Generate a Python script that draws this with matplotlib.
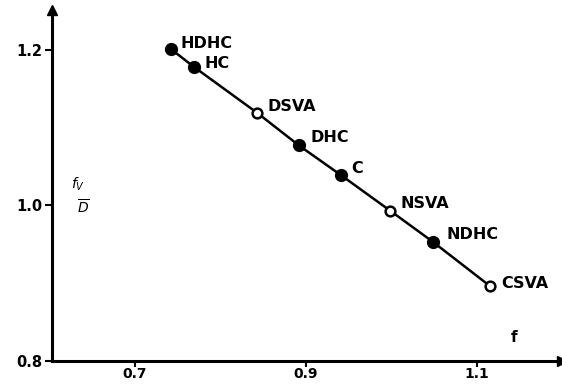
import matplotlib
matplotlib.use("Agg")
import matplotlib.pyplot as plt

names = ["HDHC", "HC", "DSVA", "DHC", "C", "NSVA", "NDHC", "CSVA"]
fx = [0.742, 0.769, 0.843, 0.892, 0.941, 0.999, 1.049, 1.116]
fy = [1.201, 1.178, 1.119, 1.077, 1.039, 0.993, 0.953, 0.896]
filled = [True, True, False, True, True, False, True, False]
xticks = [0.7, 0.9, 1.1]
xticklabels = ["0.7", "0.9", "1.1"]
yticks = [0.8, 1.0, 1.2]
yticklabels = ["0.8", "1.0", "1.2"]

label_off = [(10, 5), (11, 3), (10, 6), (12, 8), (11, 6), (10, 7), (13, 7), (11, 3)]

fig = plt.figure(figsize=(5.62, 3.86), dpi=100)
ax = fig.add_axes([52/562, 25/386, 510/562, 351/386])
ax.set_xlim(0.603, 1.2)
ax.set_ylim(0.8, 1.251)

for s in ["top", "right"]:
    ax.spines[s].set_visible(False)
for s in ["left", "bottom"]:
    ax.spines[s].set_linewidth(2.2)

ax.plot(1, 0, ">k", transform=ax.transAxes, clip_on=False, markersize=7)
ax.plot(0, 1, "^k", transform=ax.transAxes, clip_on=False, markersize=7)

ax.plot(fx, fy, "-", color="black", lw=1.8, zorder=2)
for x, y, f, n, off in zip(fx, fy, filled, names, label_off):
    if f:
        ax.plot(x, y, "o", ms=8.5, mfc="black", mec="black", zorder=3)
    else:
        ax.plot(x, y, "o", ms=7, mfc="white", mec="black", mew=1.8, zorder=3)
    ax.annotate(n, (x, y), xytext=off, textcoords="offset pixels",
                ha="left", va="center", fontsize=11.5, fontweight="bold")

ax.set_xticks(xticks)
ax.set_xticklabels(xticklabels, fontsize=10, fontweight="bold")
ax.set_yticks(yticks)
ax.set_yticklabels(yticklabels, fontsize=10.5, fontweight="bold")
ax.tick_params(axis="both", direction="out", length=5, width=1.5, pad=2)
ax.tick_params(axis="x", pad=0.5, length=4)

ax.text(1.14, 0.825, "f", fontsize=11, fontweight="bold")
ax.text(0.625, 1.022, "$f_V$", fontsize=10, fontweight="bold")
ax.text(0.632, 0.99, "$\\overline{D}$", fontsize=10, fontweight="bold")

fig.savefig("out.png", dpi=100)
